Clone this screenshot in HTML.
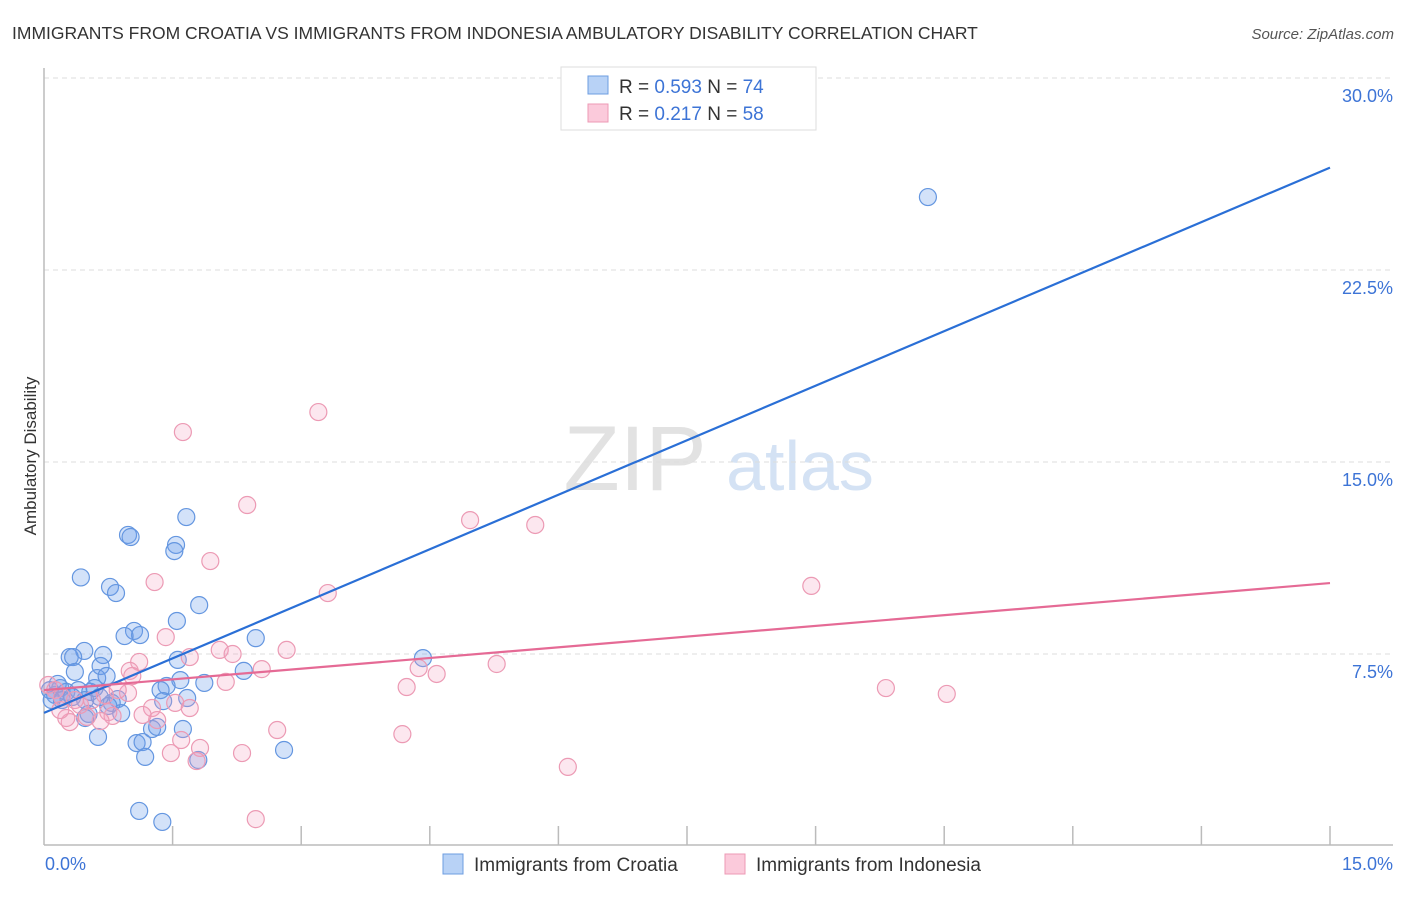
<!DOCTYPE html>
<html><head><meta charset="utf-8"><style>
body{margin:0;background:#fff;font-family:"Liberation Sans",sans-serif}
svg text{font-family:"Liberation Sans",sans-serif}
</style></head><body>
<svg id="c" width="1406" height="892">
<text x="12" y="39" font-size="17.5" fill="#333">IMMIGRANTS FROM CROATIA VS IMMIGRANTS FROM INDONESIA AMBULATORY DISABILITY CORRELATION CHART</text>
<text x="1394" y="39" font-size="15" fill="#555" font-style="italic" text-anchor="end">Source: ZipAtlas.com</text>
<text x="36" y="456" font-size="17" fill="#333" text-anchor="middle" transform="rotate(-90 36 456)">Ambulatory Disability</text>
<g><text x="635" y="490" font-size="92" font-family="Liberation Serif" fill="#e2e2e2" text-anchor="middle">ZIP</text><text x="800" y="490" font-size="70" fill="#d4e2f4" text-anchor="middle">atlas</text></g>
<g id="grid"></g><g id="axes"></g><g id="pts"></g><g id="lines"></g>
<g>
<rect x="561" y="67" width="255" height="63" fill="#fff" stroke="#ddd"/>
<rect x="588" y="76" width="20" height="18" fill="#b8d2f6" stroke="#6d9de0"/>
<rect x="588" y="104" width="20" height="18" fill="#fbcadb" stroke="#ec9ab4"/>
<text x="619" y="93" font-size="19" fill="#333">R = <tspan fill="#3d74d6">0.593</tspan>   N = <tspan fill="#3d74d6">74</tspan></text>
<text x="619" y="120" font-size="19" fill="#333">R = <tspan fill="#3d74d6"> 0.217</tspan>   N = <tspan fill="#3d74d6">58</tspan></text>
</g>
<g>
<rect x="443" y="854" width="20" height="20" fill="#b8d2f6" stroke="#6d9de0"/>
<text x="474" y="871" font-size="19" fill="#333">Immigrants from Croatia</text>
<rect x="725" y="854" width="20" height="20" fill="#fbcadb" stroke="#ec9ab4"/>
<text x="756" y="871" font-size="19" fill="#333">Immigrants from Indonesia</text>
</g>
</svg>
<script>
const croatiaX=[10.31,0.43,0.77,0.84,0.98,1.01,1.66,1.54,1.52,1.81,1.55,1.05,1.12,0.94,2.47,0.47,0.30,0.34,0.69,0.66,1.56,4.42,2.33,0.36,0.62,0.73,1.59,1.87,1.43,1.36,1.67,1.39,0.86,0.79,0.75,0.90,0.52,0.48,0.63,1.08,1.15,1.26,1.32,1.62,1.18,1.80,2.80,1.11,1.38,0.07,0.13,0.19,0.26,0.40,0.54,0.59,0.09,0.21,0.33,0.48,0.65,0.16];
const croatiaY=[25.35,10.49,10.12,9.88,12.15,12.07,12.85,11.76,11.52,9.41,8.79,8.40,8.24,8.20,8.12,7.62,7.38,7.38,7.46,7.03,7.27,7.34,6.84,6.80,6.56,6.64,6.48,6.37,6.25,6.09,5.78,5.66,5.74,5.59,5.47,5.19,5.16,5.00,4.26,4.02,4.06,4.57,4.65,4.57,3.48,3.36,3.75,1.37,0.94,6.09,5.90,6.17,6.02,6.09,6.02,6.17,5.70,5.70,5.82,5.70,5.82,6.33];
const indonesiaX=[3.20,1.62,2.37,4.97,5.73,1.94,1.29,8.95,3.31,1.42,2.83,2.05,2.20,1.70,1.11,2.54,5.28,4.37,4.58,1.00,1.03,2.12,4.23,9.82,10.53,0.98,0.86,1.53,1.70,1.26,0.75,0.80,1.15,1.32,0.30,0.26,0.66,0.50,2.72,1.60,4.18,1.82,2.31,1.48,1.78,6.11,2.47,0.05,0.13,0.21,0.36,0.42,0.56,0.19,0.71];
const indonesiaY=[16.95,16.17,13.32,12.73,12.54,11.13,10.31,10.16,9.88,8.16,7.66,7.66,7.50,7.38,7.19,6.91,7.11,6.95,6.72,6.84,6.64,6.41,6.21,6.17,5.94,5.98,6.09,5.59,5.39,5.39,5.23,5.08,5.12,4.92,4.84,5.00,4.88,5.04,4.53,4.14,4.37,3.83,3.63,3.63,3.32,3.09,1.05,6.29,6.09,5.82,5.70,5.51,5.70,5.31,5.90];
const croatiaTrend=[5.2,26.5];
const indonesiaTrend=[6.09,10.27];
const trendX=[0,15];
const yTicks=[7.5,15,22.5,30];
const yTickLabels=["7.5%","15.0%","22.5%","30.0%"];
const NS='http://www.w3.org/2000/svg';
const X0=44,X1=1330,Y0=846,YTOP=78;
const sx=v=>X0+(v/15)*(X1-X0);
const sy=v=>Y0-(v/30)*(Y0-YTOP);
function mk(tag,a,parent){const e=document.createElementNS(NS,tag);for(const k in a)e.setAttribute(k,a[k]);document.getElementById(parent).appendChild(e);return e;}
yTicks.forEach((t,i)=>{
 const l=mk('line',{x1:X0,x2:1393,y1:sy(t),y2:sy(t),stroke:'#ddd','stroke-dasharray':'5,4'},'grid');
 
 
 const tx=mk('text',{x:1393,y:sy(t)+24,'font-size':18,fill:'#3d74d6','text-anchor':'end'},'grid');
 tx.textContent=yTickLabels[i];
 
 
});
let ax=mk('line',{x1:X0,x2:X0,y1:68,y2:845,stroke:'#bbb','stroke-width':1.5},'axes');


ax=mk('line',{x1:X0,x2:1393,y1:845,y2:845,stroke:'#bbb','stroke-width':1.5},'axes');


for(let i=1;i<=10;i++){const x=sx(i*1.5);const t=mk('line',{x1:x,x2:x,y1:826,y2:845,stroke:'#bbb','stroke-width':1.5},'axes');
 
 }
let xl=mk('text',{x:45,y:870,'font-size':18,fill:'#3d74d6'},'axes');xl.textContent='0.0%';


xl=mk('text',{x:1393,y:870,'font-size':18,fill:'#3d74d6','text-anchor':'end'},'axes');xl.textContent='15.0%';


croatiaX.forEach((v,i)=>{const c=mk('circle',{cx:sx(v),cy:sy(croatiaY[i]),r:8.5,fill:'rgba(110,160,235,0.3)',stroke:'#6496e0','stroke-width':1.2},'pts');
 
 });
indonesiaX.forEach((v,i)=>{const c=mk('circle',{cx:sx(v),cy:sy(indonesiaY[i]),r:8.5,fill:'rgba(245,160,190,0.25)',stroke:'#ec9ab4','stroke-width':1.2},'pts');
 
 });
let tl=mk('line',{x1:sx(trendX[0]),y1:sy(croatiaTrend[0]),x2:sx(trendX[1]),y2:sy(croatiaTrend[1]),stroke:'#2a6fd6','stroke-width':2.2},'lines');


tl=mk('line',{x1:sx(trendX[0]),y1:sy(indonesiaTrend[0]),x2:sx(trendX[1]),y2:sy(indonesiaTrend[1]),stroke:'#e56a95','stroke-width':2.2},'lines');


</script>
</body></html>
